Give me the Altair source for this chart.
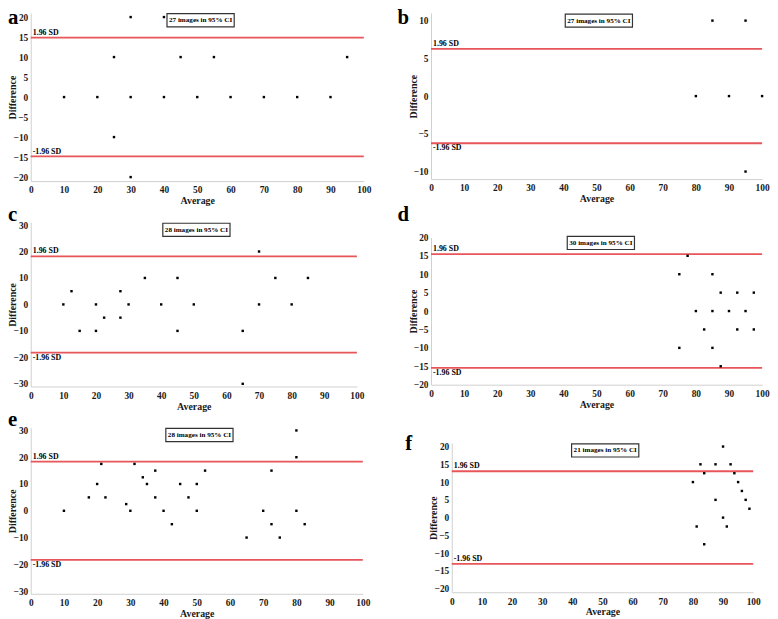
import altair as alt
import pandas as pd

FONT = "'Liberation Serif', 'Times New Roman', Times, serif"

# ---- data ----
a_avg = [10, 20, 25, 25, 30, 30, 30, 40, 40, 45, 50, 55, 60, 70, 80, 90, 95]
a_diff = [0, 0, 10, -10, 20, 0, -20, 20, 0, 10, 0, 10, 0, 0, 0, 0, 10]
a_sd = 14.85

b_avg = [80, 85, 90, 95, 95, 100]
b_diff = [0, 10, 0, 10, -10, 0]
b_sd = 6.25

c_avg = [10, 12.5, 15, 20, 20, 22.5, 27.5, 27.5, 30, 35, 40, 45, 45, 50, 65, 65, 70, 70, 75, 80, 85]
c_diff = [0, 5, -10, 0, -10, -5, 5, -5, 0, 10, 0, 10, -10, 0, -10, -30, 20, 0, 10, 0, 10]
c_sd = 18.2

d_avg = [75, 75, 77.5, 80, 82.5, 85, 85, 85, 87.5, 87.5, 90, 92.5, 92.5, 95, 97.5, 97.5]
d_diff = [10, -10, 15, 0, -5, 10, 0, -10, 5, -15, 0, 5, -5, 0, 5, -5]
d_sd = 15.45

e_avg = [10, 17.5, 20, 21.25, 22.5, 28.75, 30, 31.25, 33.75, 35, 37.5, 37.5, 40, 42.5,
         45, 47.5, 50, 50, 52.5, 65, 70, 72.5, 72.5, 75, 80, 80, 80, 82.5]
e_diff = [0, 5, 10, 17.5, 5, 2.5, 0, 17.5, 12.5, 10, 15, 5, 0, -5,
          10, 5, 10, 0, 15, -10, 0, 15, -5, -10, 30, 20, 0, -5]
e_sd = 18.35

f_avg = [80, 81.25, 82.5, 83.75, 83.75, 87.5, 87.5, 90, 90, 91.25, 92.5, 93.75, 95, 96.25, 97.5, 98.75]
f_diff = [10, -2.5, 15, 12.5, -7.5, 15, 5, 20, 0, -2.5, 15, 12.5, 10, 7.5, 5, 2.5]
f_sd = 13.05

ci_texts = {"a": "27 images in 95% CI", "b": "27 images in 95% CI", "c": "28 images in 95% CI",
            "d": "30 images in 95% CI", "e": "28 images in 95% CI", "f": "21 images in 95% CI"}
ci_pos = {"a": (51, 19.2), "b": (50.7, 10.0), "c": (50.8, 28.2),
          "d": (51.3, 18.5), "e": (50.8, 28.3), "f": (50.9, 18.9)}
y_domains = {"a": (-21, 21, 5), "b": (-11, 11, 5), "c": (-31, 31, 10),
             "d": (-20, 20, 5), "e": (-31, 31, 10), "f": (-21, 21, 5)}
x_ticks = list(range(0, 101, 10))
sd_labels = ["1.96 SD", "-1.96 SD"]

RED = "#e8555a"


def panel(letter, avg, diff, sd, width, height, lower_above, letter_dx, letter_dy,
          x_offset=0):
    ymin, ymax, ystep = y_domains[letter]
    top = (int(ymax) // ystep) * ystep
    yvals = list(range(-top, top + 1, ystep))
    if x_offset:
        xs = alt.Scale(domain=[0, 100], nice=False, zero=False, range=[x_offset, width])
    else:
        xs = alt.Scale(domain=[0, 100], nice=False, zero=False)
    ys = alt.Scale(domain=[ymin, ymax], nice=False, zero=False)
    xax = alt.Axis(values=x_ticks, title="Average", labelFlush=False)
    yax = alt.Axis(values=yvals, title="Difference", labelFlush=False, offset=-x_offset,
                   titleX=-13, titleY=height / 2, titleAngle=270, titleBaseline="bottom",
                   titleAlign="center")

    def X():
        return alt.X("Average:Q", scale=xs, axis=xax)

    def Y():
        return alt.Y("Difference:Q", scale=ys, axis=yax)

    df = pd.DataFrame({"Average": avg, "Difference": diff})
    pts = alt.Chart(df).mark_square(size=6, color="black", opacity=1).encode(x=X(), y=Y())

    sd_df = pd.DataFrame({"Average": [0, 0], "Average2": [100, 100],
                          "Difference": [sd, -sd], "label": sd_labels})
    rules = alt.Chart(sd_df).mark_rule(color=RED, strokeWidth=1.8).encode(
        x=X(), x2="Average2:Q", y=Y())

    up = alt.Chart(sd_df.iloc[[0]]).mark_text(
        font=FONT, fontWeight="bold", fontSize=8, align="left", baseline="bottom",
        dx=2, dy=-1, color="black").encode(x=X(), y=Y(), text="label:N")
    low = alt.Chart(sd_df.iloc[[1]]).mark_text(
        font=FONT, fontWeight="bold", fontSize=8, align="left",
        baseline="bottom" if lower_above else "top",
        dx=2, dy=-1 if lower_above else 1, color="black").encode(
        x=X(), y=Y(), text="label:N")

    cx, cy = ci_pos[letter]
    ci_df = pd.DataFrame({"Average": [cx], "Difference": [cy], "t": [ci_texts[letter]]})
    box = alt.Chart(ci_df).mark_point(
        shape="M-1,-0.195L1,-0.195L1,0.195L-1,0.195Z", size=68 * 68, filled=False,
        fill="white", fillOpacity=1, stroke="#333333", strokeWidth=1.2, opacity=1).encode(
        x=X(), y=Y())
    txt = alt.Chart(ci_df).mark_text(
        font=FONT, fontWeight="bold", fontSize=7.2, color="black").encode(
        x=X(), y=Y(), text="t:N")

    let_df = pd.DataFrame({"t": [letter]})
    let = alt.Chart(let_df).mark_text(
        font=FONT, fontWeight="bold", fontSize=21, align="left", baseline="alphabetic",
        color="black").encode(
        x=alt.value(letter_dx), y=alt.value(letter_dy), text="t:N")

    return alt.layer(rules, pts, up, low, box, txt, let).properties(width=width, height=height)


pa = panel("a", a_avg, a_diff, a_sd, 337, 170, True, -23, 11)
pb = panel("b", b_avg, b_diff, b_sd, 335, 168, False, -34, 11)
pc = panel("c", c_avg, c_diff, c_sd, 330, 166, False, -23, -1.5)
pd_ = panel("d", d_avg, d_diff, d_sd, 335, 149, False, -34, -16.5)
pe = panel("e", e_avg, e_diff, e_sd, 336, 168, False, -23, -2)
pf = panel("f", f_avg, f_diff, f_sd, 326, 151, True, -26, 7, x_offset=21)

col1 = alt.VConcatChart(vconcat=[pa, pc, pe], spacing=41.8, bounds="flush")
col2 = alt.VConcatChart(vconcat=[pb, pd_, pf], spacing=59, bounds="flush")

chart = alt.HConcatChart(hconcat=[col1, col2], spacing=26).properties(
    padding={"left": 0, "top": -4.5, "right": 0, "bottom": 0}
).configure_axis(
    labelFont=FONT, titleFont=FONT, labelFontWeight="bold", titleFontWeight="bold",
    labelFontSize=9.5, titleFontSize=10, labelColor="#1a1a1a", titleColor="#1a1a1a",
    domainColor="#cfcfcf", domainWidth=1, ticks=False, grid=False,
).configure_axisX(labelPadding=4, titlePadding=1.5).configure_axisY(
    labelPadding=3, titlePadding=1
).configure_view(stroke=None)

chart.save("out.html", embed_options={"renderer": "svg", "actions": False})
